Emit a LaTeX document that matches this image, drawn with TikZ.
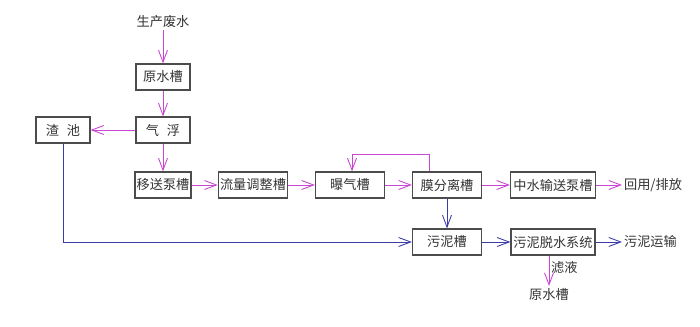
\documentclass[tikz,border=0pt]{standalone}
\usepackage{fontspec}
\usetikzlibrary{arrows.meta,positioning,calc}
\newfontfamily\cjk{Noto Sans CJK SC}
\definecolor{flowpk}{RGB}{200,70,210}
\definecolor{flowbl}{RGB}{60,60,165}
\tikzset{>={Straight Barb[length=2.4mm,width=1.8mm]},
  tank/.style={draw=black!70, line width=0.7pt, minimum height=5.2mm, minimum width=10.8mm,
    inner sep=1pt, font=\cjk\fontsize{7.5}{8}\selectfont, text=black!80},
  lbl/.style={inner sep=1pt, font=\cjk\fontsize{7.5}{8}\selectfont, text=black!80},
  pk/.style={->, draw=flowpk, line width=0.5pt},
  bl/.style={->, draw=flowbl, line width=0.5pt}}

\begin{document}
\begin{tikzpicture}[x=0.02cm, y=-0.02cm]
  \useasboundingbox (0,0) rectangle (700,327);
  \node[lbl] (src) at (163,22) {生产废水};
  \node[tank] (ys) at (163,77) {原水槽};
  \node[tank] (qf) at (163,130) {气\hspace{0.6em}浮};
  \node[tank] (zc) at (63,130) {渣\hspace{0.6em}池};
  \node[tank] (yb) at (163,185) {移送泵槽};
  \node[tank, minimum width=13.8mm] (tz) at (253,185) {流量调整槽};
  \node[tank, minimum width=13.8mm] (bq) at (350,185) {曝气槽};
  \node[tank, minimum width=13.8mm] (mf) at (447,185) {膜分离槽};
  \node[tank, minimum width=17mm] (zs) at (553,185) {中水输送泵槽};
  \node[lbl, anchor=west] (hy) at (622,185) {回用/排放};
  \node[tank, minimum width=13.8mm] (wn) at (447,242) {污泥槽};
  \node[tank, minimum width=16.8mm] (ts) at (553,242) {污泥脱水系统};
  \node[lbl, anchor=west] (ys2) at (622,242) {污泥运输};
  \node[lbl, anchor=north] (back) at (549,286) {原水槽};
  % water line
  \draw[pk] (src) -- (ys);
  \draw[pk] (ys) -- (qf);
  \draw[pk] (qf) -- (zc);
  \draw[pk] (qf) -- (yb);
  \draw[pk] (yb) -- (tz);
  \draw[pk] (tz) -- (bq);
  \draw[pk] (bq) -- (mf);
  \draw[pk] ([xshift=-0.36cm]mf.north) -- ++(0,-17) -| ([xshift=0.04cm]bq.north);
  \draw[pk] (mf) -- (zs);
  \draw[pk] (zs) -- (hy);
  % sludge line
  \draw[bl] (mf) -- (wn);
  \draw[bl] (zc.south) |- (wn.west);
  \draw[bl] (wn) -- (ts);
  \draw[bl] (ts) -- (ys2);
  \draw[pk] (ts.south -| back.north) -- node[lbl, right, pos=0.4] {滤液} (back.north);
\end{tikzpicture}
\end{document}
